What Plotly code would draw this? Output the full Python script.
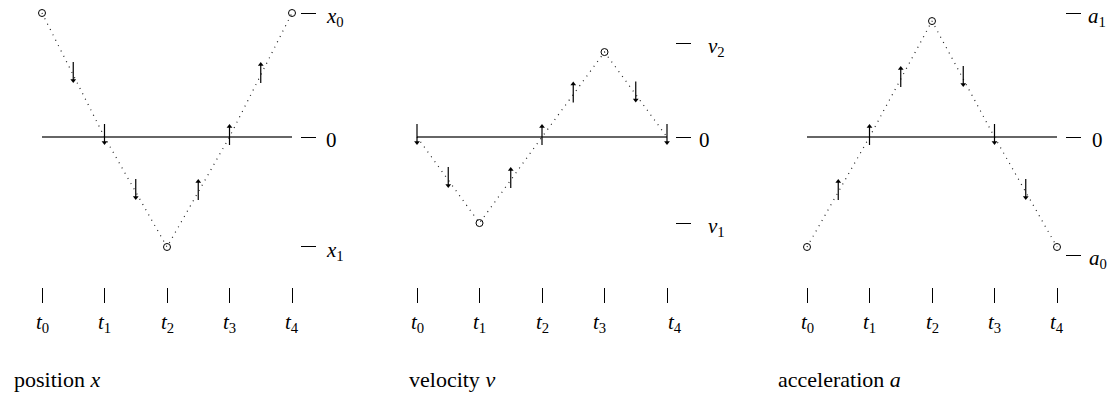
import numpy as np
import plotly.graph_objects as go

# time instants t0..t4 (shared by the three panels)
t = [0, 1, 2, 3, 4]
t_labels = ["<i>t</i><sub>0</sub>", "<i>t</i><sub>1</sub>", "<i>t</i><sub>2</sub>",
            "<i>t</i><sub>3</sub>", "<i>t</i><sub>4</sub>"]

# position x
pos_vals = [1.0, 0.0, -0.887, 0.0, 1.0]
pos_levels = [1.0, 0.0, -0.887]
pos_level_text = ["<i>x</i><sub>0</sub>", "0", "<i>x</i><sub>1</sub>"]
pos_arrow_t = [0.5, 1, 1.5, 2.5, 3, 3.5]
pos_arrow_dir = [-1, -1, -1, 1, 1, 1]

# velocity v
vel_vals = [0.0, -0.694, 0.0, 0.685, 0.0]
vel_levels = [0.758, 0.0, -0.694]
vel_level_text = ["<i>v</i><sub>2</sub>", "0", "<i>v</i><sub>1</sub>"]
vel_arrow_t = [0, 0.5, 1.5, 2, 2.5, 3.5, 4]
vel_arrow_dir = [-1, -1, 1, 1, 1, -1, -1]

# acceleration a
acc_vals = [-0.887, 0.0, 0.935, 0.0, -0.887]
acc_levels = [1.0, 0.0, -0.952]
acc_level_text = ["<i>a</i><sub>1</sub>", "0", "<i>a</i><sub>0</sub>"]
acc_arrow_t = [0.5, 1, 1.5, 2.5, 3, 3.5]
acc_arrow_dir = [1, 1, 1, -1, -1, -1]

# the page body has an 8px margin, so the figure is drawn 8px smaller and
# every pixel position below (measured on the full 1118x400 page) is shifted
PAGE_W, PAGE_H, OFF = 1118, 400, 8
W, H = PAGE_W - OFF, PAGE_H - OFF
FONT = "Liberation Serif"
PX_T = 62.5      # pixels per time step
PX_Y = 124.0     # pixels per value unit
ZERO_PX = 137 - OFF


def px_x(p):
    return (p - OFF) / W


def px_y(p):
    return 1 - (p - OFF) / H


panels = [
    dict(vals=pos_vals, levels=pos_levels, ltext=pos_level_text,
         at=pos_arrow_t, ad=pos_arrow_dir, t0px=42, dashpx=300,
         labelpx=[325, 325, 325],
         title="position <i>x</i>", titlepx=12, tshift=[0, 0, 0, 0, 0]),
    dict(vals=vel_vals, levels=vel_levels, ltext=vel_level_text,
         at=vel_arrow_t, ad=vel_arrow_dir, t0px=417, dashpx=675,
         labelpx=[707, 698, 707],
         title="velocity <i>v</i>", titlepx=407, tshift=[0, 0, 0, -5, 8]),
    dict(vals=acc_vals, levels=acc_levels, ltext=acc_level_text,
         at=acc_arrow_t, ad=acc_arrow_dir, t0px=807, dashpx=1065,
         labelpx=[1087, 1091, 1088],
         title="acceleration <i>a</i>", titlepx=776, tshift=[0, 0, 0, 0, 0]),
]

fig = go.Figure()
y_range = [(ZERO_PX - H) / PX_Y, ZERO_PX / PX_Y]
annotations = []
label_font = dict(family=FONT, size=21, color="black")

for i, p in enumerate(panels):
    sfx = "" if i == 0 else str(i + 1)
    xa, ya = "x" + sfx, "y" + sfx
    vals = np.array(p["vals"], dtype=float)

    # zero line
    fig.add_trace(go.Scatter(x=[t[0], t[-1]], y=[0, 0], mode="lines",
                             line=dict(color="#333333", width=1.3),
                             xaxis=xa, yaxis=ya, hoverinfo="skip"))
    # dotted path
    fig.add_trace(go.Scatter(x=t, y=vals, mode="lines",
                             line=dict(color="#222222", width=1.2, dash="1px,5px"),
                             xaxis=xa, yaxis=ya, hoverinfo="skip"))

    # small vertical arrows along the path: shafts + triangle heads
    yc = np.interp(p["at"], t, vals)
    sx, sy, hx, hy, hs = [], [], [], [], []
    for tx, y0, d in zip(p["at"], yc, p["ad"]):
        up, down = y0 + 13 / PX_Y, y0 - 8 / PX_Y
        head, tail = (up, down) if d > 0 else (down, up)
        sx += [tx, tx, None]
        sy += [tail, head - d * 3 / PX_Y, None]
        hx.append(tx)
        hy.append(head - d * 2.5 / PX_Y)
        hs.append("triangle-up" if d > 0 else "triangle-down")
    fig.add_trace(go.Scatter(x=sx, y=sy, mode="lines",
                             line=dict(color="black", width=1.2),
                             xaxis=xa, yaxis=ya, hoverinfo="skip"))
    fig.add_trace(go.Scatter(x=hx, y=hy, mode="markers",
                             marker=dict(symbol=hs, size=5, color="black",
                                         line=dict(width=0)),
                             xaxis=xa, yaxis=ya, hoverinfo="skip"))

    # open circles at the extreme values
    mask = vals != 0
    fig.add_trace(go.Scatter(x=np.array(t)[mask], y=vals[mask], mode="markers",
                             marker=dict(symbol="circle-open", size=7, color="black",
                                         line=dict(width=1)),
                             xaxis=xa, yaxis=ya, hoverinfo="skip"))

    # time labels under the ticks
    for tx, lab, sh in zip(t, t_labels, p["tshift"]):
        annotations.append(dict(x=tx, y=(ZERO_PX - (323 - OFF)) / PX_Y, xref=xa, yref=ya,
                                text=lab, showarrow=False, xshift=sh,
                                xanchor="center", yanchor="middle", font=label_font))

    # level labels next to the right-hand dashes
    for lv, lab, lx in zip(p["levels"], p["ltext"], p["labelpx"]):
        annotations.append(dict(x=px_x(lx), y=lv, xref="paper", yref=ya, text=lab,
                                showarrow=False, xanchor="left", yanchor="middle",
                                borderpad=0,
                                yshift=-4 if "sub" in lab else -3, font=label_font))

    # panel caption
    annotations.append(dict(x=px_x(p["titlepx"]), y=px_y(379), xref="paper", yref="paper",
                            xanchor="left", yanchor="middle", text=p["title"],
                            showarrow=False,
                            font=dict(family=FONT, size=22, color="black")))

    t0 = p["t0px"] - OFF
    xaxis = dict(range=[-t0 / PX_T, (W - t0) / PX_T], domain=[0, 1], anchor="free",
                 position=px_y(287), tickvals=t, showticklabels=False,
                 ticks="outside", ticklen=15, tickwidth=1, tickcolor="black",
                 showline=False, showgrid=False, zeroline=False, fixedrange=True)
    yaxis = dict(range=y_range, domain=[0, 1], anchor="free", position=px_x(p["dashpx"]),
                 side="right", tickvals=p["levels"], showticklabels=False,
                 ticks="outside", ticklen=15, tickwidth=1, tickcolor="black",
                 showline=False, showgrid=False, zeroline=False, fixedrange=True)
    if i > 0:
        xaxis["overlaying"] = "x"
        yaxis["overlaying"] = "y"
    fig.update_layout(**{"xaxis" + sfx: xaxis, "yaxis" + sfx: yaxis})

fig.update_layout(
    width=W, height=H, autosize=False,
    margin=dict(l=0, r=0, t=0, b=0),
    plot_bgcolor="white", paper_bgcolor="white",
    showlegend=False, annotations=annotations,
)

fig.write_html("out.html")
